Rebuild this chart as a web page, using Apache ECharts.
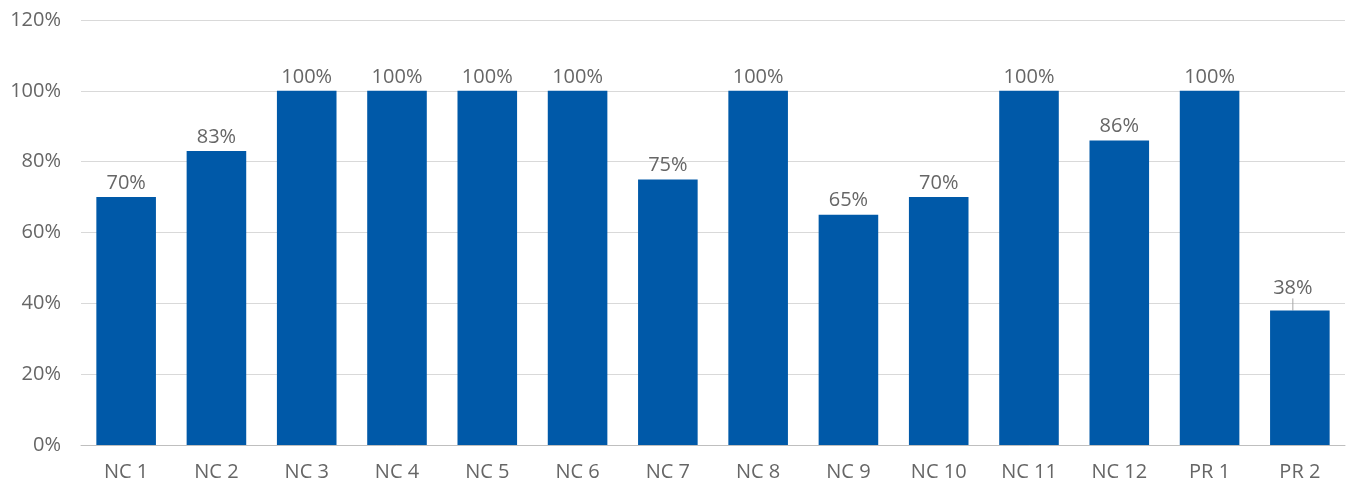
<!DOCTYPE html>
<html><head><meta charset="utf-8">
<script src="https://cdn.jsdelivr.net/npm/echarts@6/dist/echarts.min.js"></script>
<style>html,body{margin:0;padding:0;background:#fff}#c{width:1346px;height:485px}</style>
</head><body><div id="c"></div>
<script>
const categories = ['NC 1','NC 2','NC 3','NC 4','NC 5','NC 6','NC 7','NC 8','NC 9','NC 10','NC 11','NC 12','PR 1','PR 2'];
const values = [70,83,100,100,100,100,75,100,65,70,100,86,100,38];
const yTicks = {min:0, max:120, interval:20};
const font = '"Open Sans", Lato, sans-serif';
const movedLabel = 13;
const chart = echarts.init(document.getElementById('c'));
chart.setOption({
  animation:false,
  grid:{left:81,right:1,top:20,bottom:40,containLabel:false},
  xAxis:{type:'category',data:categories,
    axisLine:{lineStyle:{color:'#bfbfbf',width:1}},axisTick:{show:false},
    axisLabel:{color:'#666666',fontSize:20,fontFamily:font,margin:17}},
  yAxis:{type:'value',min:yTicks.min,max:yTicks.max,interval:yTicks.interval,
    axisLine:{show:false},axisTick:{show:false},
    splitLine:{lineStyle:{color:'#d9d9d9',width:1}},
    axisLabel:{color:'#666666',fontSize:20,fontFamily:font,margin:20,formatter:'{value}%'}},
  series:[{type:'bar',
    data:values.map((v,i)=> i===movedLabel ? {value:v,labelLine:{show:true,lineStyle:{color:'#a6a6a6',width:1}}} : {value:v,labelLine:{show:false}}),
    barCategoryGap:'34%',
    itemStyle:{color:'#0059a8'},
    label:{show:true,position:'top',distance:4,color:'#666666',fontSize:20,fontFamily:font,formatter:'{c}%'},
    labelLayout:function(p){ if(p.dataIndex===movedLabel) return {x:p.rect.x+p.rect.width/2-7,y:p.rect.y-12,align:'center',verticalAlign:'bottom'}; return {}; }
  }]
});
</script></body></html>
